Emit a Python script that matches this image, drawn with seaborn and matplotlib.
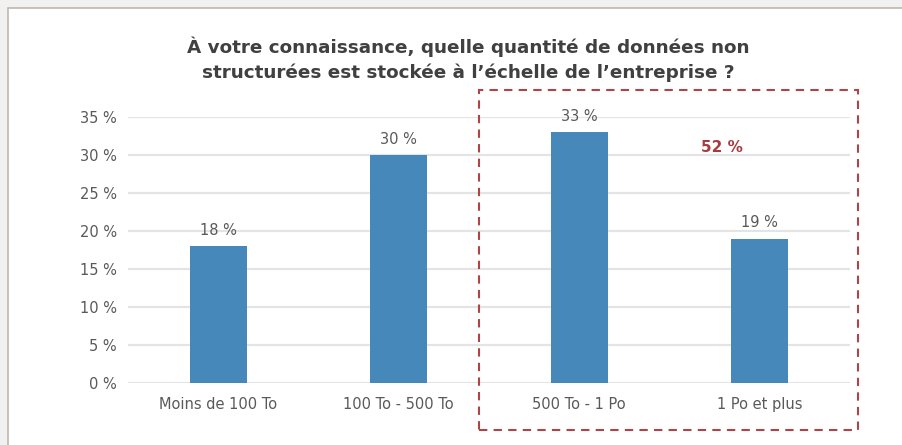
import matplotlib
matplotlib.use("Agg")
import matplotlib.pyplot as plt
import matplotlib.patches as mpatches
import pandas as pd
import seaborn as sns

# data
categories = ["Moins de 100 To", "100 To - 500 To", "500 To - 1 Po", "1 Po et plus"]
values = [18, 30, 33, 19]
yticks = [0, 5, 10, 15, 20, 25, 30, 35]
highlight_label = "52 %"
title = ("À votre connaissance, quelle quantité de données non\n"
         "structurées est stockée à l’échelle de l’entreprise ?")

sns.set_theme(style="white")
plt.rcParams['font.family'] = ['DejaVu Sans']

W, H = 903, 445
fig = plt.figure(figsize=(W / 100, H / 100), dpi=100, facecolor="#f1f1f1")

# white chart area with thin border
fig.patches.append(mpatches.Rectangle((8 / W, -0.1), 1.1, 1 - 8 / H + 0.1,
                                      transform=fig.transFigure, facecolor="white",
                                      edgecolor="#bdb8ae", linewidth=1.2, zorder=-10))

ax = fig.add_axes([128 / W, (H - 383) / H, (850 - 128) / W, (383 - 117) / H])
ax.set_facecolor("none")

df = pd.DataFrame({"cat": categories, "val": values})
sns.barplot(data=df, x="cat", y="val", color="#4788ba", saturation=1,
            width=0.315, linewidth=0, ax=ax, zorder=3)

ax.set_ylim(0, 35)
ax.set_yticks(yticks)
ax.set_yticklabels([f"{t} %" for t in yticks])
ax.set_xlabel("")
ax.set_ylabel("")
ax.yaxis.grid(True, color="#e4e4e4", linewidth=1.6)
ax.set_axisbelow(True)
for s in ax.spines.values():
    s.set_visible(False)
ax.tick_params(axis="y", length=0, pad=8, labelsize=10.5, labelcolor="#595959")
ax.tick_params(axis="x", length=0, pad=10, labelsize=10.5, labelcolor="#595959")

for p, v in zip(ax.patches, values):
    ax.annotate(f"{v} %", (p.get_x() + p.get_width() / 2, p.get_height()),
                xytext=(0, 6), textcoords="offset points", ha="center", va="bottom",
                fontsize=10.5, color="#595959")

fig.text(468 / W, 1 - 59 / H, title, ha="center", va="center", fontsize=13.2,
         fontweight="bold", color="#404040", linespacing=1.45)

# dashed highlight box around the last two categories
fig.add_artist(mpatches.Rectangle((479 / W, 1 - 430 / H), (858 - 479) / W, (430 - 90) / H,
                                  transform=fig.transFigure, fill=False,
                                  edgecolor="#ac4448", linewidth=1.5,
                                  linestyle=(0, (4, 3)), zorder=5))
fig.text(722 / W, 1 - 147 / H, highlight_label, ha="center", va="center",
         fontsize=11, fontweight="bold", color="#a8393d")

fig.savefig("out.png", dpi=100, facecolor=fig.get_facecolor())
